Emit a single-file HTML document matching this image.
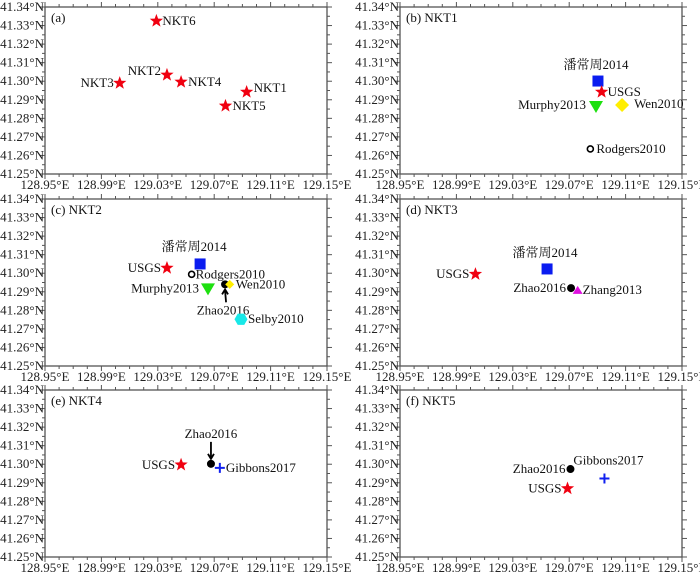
<!DOCTYPE html>
<html><head><meta charset="utf-8"><style>
body{margin:0;background:#fff;}
svg text{font-family:"Liberation Serif","Noto Serif CJK SC",serif;}
</style></head><body>
<svg id="c" width="700" height="575" xmlns="http://www.w3.org/2000/svg"></svg>
<script>
const lonTicks=[128.95,128.99,129.03,129.07,129.11,129.15];
const latTicks=[41.34,41.33,41.32,41.31,41.30,41.29,41.28,41.27,41.26,41.25];
const panelTitles=["(a)","(b) NKT1","(c) NKT2","(d) NKT3","(e) NKT4","(f) NKT5"];
// points: [lon, lat, marker, label, labelDx, labelDy, anchor]
const panelA=[[129.029,41.3325,"star","NKT6",6,4,"start"],[129.0365,41.3034,"star","NKT2",-6,0,"end"],[129.0465,41.2996,"star","NKT4",7,4,"start"],[129.003,41.299,"star","NKT3",-6,4,"end"],[129.093,41.2942,"star","NKT1",7,0,"start"],[129.078,41.2867,"star","NKT5",7,4,"start"]];
const panelB=[[129.0904,41.3001,"square","潘常周2014",-2,-12,"middle"],[129.093,41.2942,"star","USGS",6,4,"start"],[129.089,41.2861,"tridown","Murphy2013",-10,2,"end"],[129.1075,41.2872,"diamond","Wen2010",12,3,"start"],[129.085,41.2635,"ocircle","Rodgers2010",6,4,"start"]];
const panelC=[[129.06,41.305,"square","潘常周2014",-6,-13,"middle"],[129.0365,41.3028,"star","USGS",-6,4,"end"],[129.054,41.2994,"ocircle","Rodgers2010",4,4,"start"],[129.0656,41.2913,"tridown","Murphy2013",-9,3,"end"],[129.0777,41.294,"fcircle","Zhao2016",-2,30,"middle"],[129.081,41.294,"diamond","Wen2010",6,4,"start"],[129.089,41.2752,"hex","Selby2010",7,4,"start"]];
const panelD=[[129.0543,41.3023,"square","潘常周2014",-2,-12,"middle"],[129.0035,41.2995,"star","USGS",-6,4,"end"],[129.0713,41.292,"fcircle","Zhao2016",-5,4,"end"],[129.076,41.291,"triup","Zhang2013",5,4,"start"]];
const panelE=[[129.0465,41.2997,"star","USGS",-6,4,"end"],[129.0677,41.3002,"fcircle","Zhao2016",0,-26,"middle"],[129.074,41.298,"plus","Gibbons2017",6,4,"start"]];
const panelF=[[129.0709,41.2974,"fcircle","Zhao2016",-5,4,"end"],[129.0688,41.2869,"star","USGS",-6,4,"end"],[129.095,41.2923,"plus","Gibbons2017",4,-14,"middle"]];
const panels=[panelA,panelB,panelC,panelD,panelE,panelF];
const NS="http://www.w3.org/2000/svg";
const svg=document.getElementById('c');
function mk(t,a,p){const e=document.createElementNS(NS,t);for(const k in a)e.setAttribute(k,a[k]);(p||svg).appendChild(e);return e;}
const X0=[45,400],Y0=[7,199,390],W=282,H=167;
panels.forEach((pts,i)=>{
  const px=X0[i%2],py=Y0[Math.floor(i/2)];
  const g=mk('g',{});
  
  
  const sx=v=>px+(v-128.95)/0.2*W, sy=v=>py+(41.34-v)/0.09*H;
  const fr=mk('rect',{x:px,y:py,width:W,height:H,fill:'none',stroke:'#555','stroke-width':1.3},g);
  
  for(let k=0;k<=20;k++){const x=px+k*W/20,len=(k%4===0)?5:3;
    mk('line',{x1:x,x2:x,y1:py+H,y2:py+H+len,stroke:'#555'},g);
    mk('line',{x1:x,x2:x,y1:py,y2:py-len,stroke:'#555'},g);}
  for(let k=0;k<=18;k++){const y=py+k*H/18,len=(k%2===0)?5:3;
    mk('line',{x1:px,x2:px-len,y1:y,y2:y,stroke:'#555'},g);
    mk('line',{x1:px+W,x2:px+W+len,y1:y,y2:y,stroke:'#555'},g);}
  lonTicks.forEach(v=>{const t=mk('text',{x:sx(v),y:py+H+15,'font-size':13,'text-anchor':'middle',fill:'#222'},g);t.textContent=v.toFixed(2)+'°E';
    });
  latTicks.forEach(v=>{const t=mk('text',{x:px-1,y:sy(v)+4,'font-size':13,'text-anchor':'end',fill:'#222'},g);t.textContent=v.toFixed(2)+'°N';
    });
  const tt=mk('text',{x:px+6,y:py+15,'font-size':13,fill:'#111'},g);tt.textContent=panelTitles[i];
  
  pts.forEach(p=>{
    const x=sx(p[0]),y=sy(p[1]);let m;
    switch(p[2]){
      case 'star':{let s='';for(let j=0;j<10;j++){const r=j%2?2.9:7,a=-Math.PI/2+j*Math.PI/5;s+=(x+r*Math.cos(a))+','+(y+r*Math.sin(a))+' ';}m=mk('polygon',{points:s,fill:'#f00010'},g);break;}
      case 'square':m=mk('rect',{x:x-5.5,y:y-5.5,width:11,height:11,fill:'#0a1cf0'},g);break;
      case 'tridown':m=mk('polygon',{points:`${x-7},${y-6} ${x+7},${y-6} ${x},${y+6}`,fill:'#1ee010'},g);break;
      case 'triup':m=mk('polygon',{points:`${x-5},${y+4} ${x+5},${y+4} ${x},${y-4}`,fill:'#e010e0'},g);break;
      case 'diamond':{const r=p[4]>10?7:4.5;m=mk('polygon',{points:`${x},${y-r} ${x+r},${y} ${x},${y+r} ${x-r},${y}`,fill:'#ffee00'},g);break;}
      case 'ocircle':m=mk('circle',{cx:x,cy:y,r:3,fill:'none',stroke:'#000','stroke-width':1.6},g);break;
      case 'fcircle':m=mk('circle',{cx:x,cy:y,r:4,fill:'#000'},g);break;
      case 'hex':{let s='';for(let j=0;j<6;j++){const a=j*Math.PI/3;s+=(x+6.5*Math.cos(a))+','+(y+6.5*Math.sin(a))+' ';}m=mk('polygon',{points:s,fill:'#18e8e8'},g);break;}
      case 'plus':m=mk('path',{d:`M${x-5},${y}H${x+5}M${x},${y-5}V${y+5}`,stroke:'#1020f0','stroke-width':2},g);break;
    }
    
    
    const t=mk('text',{x:x+p[4],y:y+p[5],'font-size':13,'text-anchor':p[6],fill:'#111'},g);t.textContent=p[3];
    
    if(p[3]==='Zhao2016'&&(i===2||i===4)){
      const up=i===2;
      const a=mk('path',{d:up?`M${x+1},${y+18}L${x},${y+6}M${x-3},${y+10}L${x},${y+5}L${x+3},${y+10}`:`M${x},${y-22}V${y-6}M${x-3},${y-10}L${x},${y-5}L${x+3},${y-10}`,stroke:'#000','stroke-width':1.8,fill:'none'},g);
      
    }
  });
});
</script>
</body></html>
